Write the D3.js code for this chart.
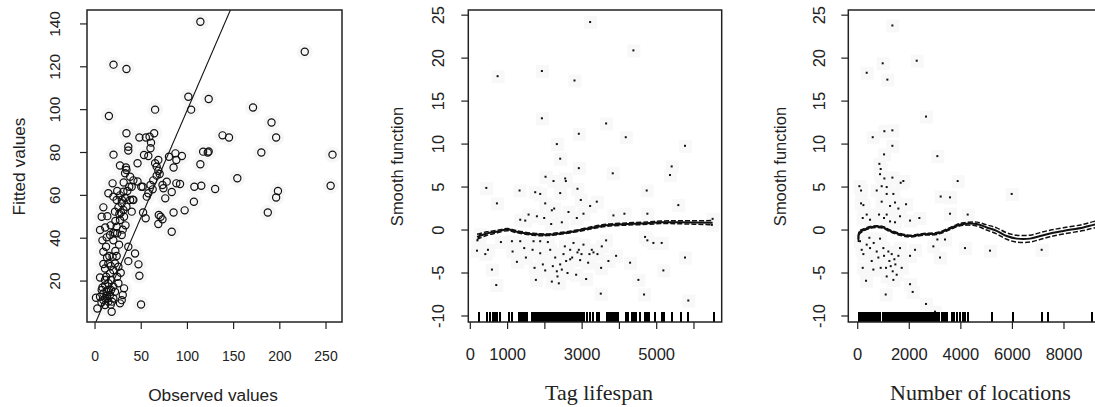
<!DOCTYPE html>
<html>
<head>
<meta charset="utf-8">
<script src="https://cdn.jsdelivr.net/npm/d3@7"></script>
<style>
  html, body { margin: 0; padding: 0; background: #fff; }
  svg { display: block; }
  text { fill: #222; }
</style>
</head>
<body>
<svg id="chart" width="1095" height="407"></svg>
<script>
// ---- Panel 1: observed vs fitted ----
const observed = [114,227,20,34,15,101,123,104,65,171,191,196,138,145,180,257,255,198,196,187,154,130,122,123,117,114,115,107.5,107,97,85,83,87,94,88,80,85,88,92,83,74,76,68.5,66.7,68.5,70,65,64,59,48,55,60.6,60,53,57.7,46,34,36,36,20,27,33.5,34,32.5,38,41.5,46,51.6,57.7,56,62.4,60,63,66.7,73,77.6,69,71,73,68.5,54.8,52,50,
  14.4,19.8,23.4,27,30.7,28.9,25.3,21.6,26.3,30.7,34,38,40.8,32.5,27,23.4,19.8,24,28.9,16.2,12.6,5.4,7.2,9,13.3,11.9,15.5,14.4,19,23.4,21.6,25.3,19.8,16.2,27.8,24,5.4,10.8,14.4,19.8,25.3,31.4,1,5.4,9,12.6,16.2,19.8,9,14.4,10.8,2.5,18,30,28.9,27,7.2,17.3,21.6,13.3,18.4,43.3,47,48,49.8,36,36,41.5,39.7,31.4,19.8,9,10.8,17.3,21.6,39.7,19,
  8,11,13,15,7,11,17,12,9,13,17,22,26,30,33,29,24,35,31,37,28,17,11,22,8];
const fitted = [141,127,121,119,97,106,105,100,100,101,94,87,88,87,80,79,64.5,62,59,52,68,63,80,80.5,80.4,74.5,64.5,64,57,53,52,43,79.6,78.4,76.5,78,73,65.6,65.3,61.6,63.3,58.6,76.5,73.4,71.5,70,75,89,87.4,87,87,84.6,82,78.8,78.4,75,89,82.7,80.9,79,73.9,73,71.8,70.3,68.7,67,66.5,64,61,59.4,62.8,64.8,67,69.2,64.8,66.4,50.8,50,48.8,46.6,49.3,52,64,
  61,59.4,57.8,60,61.7,56.3,54.4,52.4,51.3,53.2,54.7,57.8,58,58.8,48.5,45.4,42.6,42.3,41.5,41.5,40.4,43.8,50,54.4,50.3,36,31.7,28.2,31.4,31.7,28.2,26.7,25.1,23.6,23.9,22,21.7,20.5,19,17.4,19,16.6,12.2,12.7,14.2,15,13.5,11.9,11.1,10.4,8.8,7.2,5.7,13.5,11.1,9.6,15.8,15.8,15,11.9,10.4,32.9,27.8,22.5,9.1,36,29.3,57.8,52.4,50,39,33.7,25.9,20.5,42.3,64,65.6,
  17,18,13,16,10,12,9,22,28,31,27,34,37,44,46,58,62,62,66,64,52,46,45,48,39];
const obsTicks = [0, 50, 100, 150, 200, 250];
const fitTicks = [20, 40, 60, 80, 100, 120, 140];

// ---- Panel 2: smooth of tag lifespan ----
const lifespanX = [3214,4375,732,1920,2795,1920,3643,2911,4170,5759,2321,2411,2911,3821,5402,5357,5580,4732,429,714,1321,1741,1875,2018,2232,2545,2563,2875,2411,2964,3393,2009,2250,2187,2634,3036,3214,1563,1786,1982,1473,1339,3839,4134,4750,2857,2455,2170,
  179,402,473,580,696,821,1134,1250,1339,1446,1491,1670,1723,1759,1875,1946,2009,2080,2143,2187,2277,2339,2375,2411,2455,2500,2536,2571,2607,2679,2732,2768,2839,2875,2911,2946,2982,3036,3107,3161,3196,3259,3411,3500,3509,3643,3705,3911,4286,4509,4661,4688,4750,4911,5134,5179,5759,5848,1116,2214,2321,2679,3304,3527,1875,1696,
  6500,6480,190,230,260];
const lifespanResid = [24.2,20.9,17.9,18.5,17.4,13.0,12.4,11.2,10.8,9.8,10.0,8.3,7.2,6.6,7.4,6.4,2.9,4.6,4.9,3.1,4.6,4.4,4.2,6.2,5.7,6.0,5.7,4.8,4.3,3.5,3.3,3.1,2.5,2.3,2.1,1.9,2.8,1.8,1.6,1.4,1.1,1.2,1.7,1.9,1.9,1.4,0.9,0.7,
  -2.4,-2.8,-2.3,-4.6,-6.4,-1.4,-2.5,-3.7,-1.3,-2.1,-3.2,-2.3,-4.4,-5.8,-2.7,-4.0,-4.7,-1.4,-2.3,-6.0,-3.2,-5.4,-6.2,-4.0,-4.6,-2.8,-1.9,-3.6,-5.0,-3.4,-3.2,-1.5,-5.2,-2.6,-2.3,-3.5,-2.8,-1.7,-5.7,-3.8,-2.8,-2.3,-2.8,-7.4,-4.4,-1.2,-3.6,-3.0,-3.8,-5.8,-7.5,-0.8,-1.2,-1.5,-1.5,-4.7,-3.2,-8.2,-1.3,-4.2,-4.8,-2.3,-2.6,-1.9,-1.3,-1.3,
  1.3,0.6,-1.2,-0.9,-0.5];
const lifespanGrid = [180, 450, 700, 1000, 1250, 1700, 2050, 2400, 2850, 3300, 3650, 4200, 4750, 5100, 5600, 6500];
const lifespanFit = [-0.8, -0.4, -0.2, 0.05, -0.2, -0.5, -0.55, -0.4, -0.1, 0.3, 0.55, 0.7, 0.8, 0.9, 0.9, 0.85];
const lifespanBand = [0.3, 0.2, 0.15, 0.12, 0.12, 0.12, 0.1, 0.1, 0.1, 0.12, 0.12, 0.13, 0.14, 0.15, 0.17, 0.25];
const lifespanRug = [223,446,518,607,670,714,786,1027,1116,1300,1330,1360,1390,1420,1450,1480,1510,1652,1696,
  1768,1800,1830,1860,1890,1920,1950,1980,2010,2040,2070,2100,2130,2160,2190,2220,2250,2280,2310,2340,2370,2400,2430,2460,2490,2520,2550,2580,2610,2640,2670,2700,2730,2760,2790,2820,2850,2880,2910,2940,2970,3000,
  3054,3125,3214,3304,3393,3464,3661,3690,3720,3750,3780,3810,3840,3870,3900,3930,3960,
  4179,4241,4330,4393,4446,4554,4688,4750,4804,4955,5134,5196,5402,5643,5848,6536];
const lifespanTicks = [0, 1000, 2000, 3000, 4000, 5000, 6000];
const lifespanLabels = ["0", "1000", "", "3000", "", "5000", ""];

// ---- Panel 3: smooth of number of locations ----
const locationsX = [1344,349,969,1150,2288,2649,1034,1344,1344,582,1021,3089,840,891,866,1034,1124,930,1344,1667,1770,65,129,3877,5971,3218,3580,129,220,737,930,1124,1383,1447,1254,1577,1874,2391,349,478,827,1124,1021,1254,1447,1641,3580,4265,2029,194,
  90,155,220,349,478,194,323,543,607,737,801,891,995,1021,1098,1124,1189,1228,1280,1318,1357,1383,1422,1460,1512,1577,1641,1086,1706,2029,2029,2132,2223,2649,2998,2934,3192,3089,3386,4162,5131,7134,452,866,620];
const locationsResid = [23.8,18.3,19.4,17.5,19.7,13.2,11.5,11.6,9.8,10.8,8.8,8.6,7.7,7.1,6.5,6.0,5.0,5.1,6.1,5.5,5.7,5.1,4.6,5.7,4.2,3.9,3.8,3.1,2.9,4.6,3.3,4.2,4.2,3.2,2.8,2.5,3.0,1.4,1.8,1.2,1.8,1.8,1.4,1.0,0.9,1.6,1.9,1.8,1.1,1.4,
  -1.3,-2.3,-2.8,-1.7,-2.1,-4.4,-5.9,-3.6,-4.6,-2.5,-3.2,-4.4,-2.1,-3.0,-4.4,-5.4,-2.5,-3.6,-4.2,-2.8,-4.8,-5.8,-3.4,-4.0,-5.2,-3.0,-2.1,-7.5,-4.4,-3.0,-6.3,-7.2,-2.3,-8.6,-9.5,-1.9,-3.2,-1.1,-1.1,-2.1,-2.4,-2.3,-0.9,-1.0,-1.5];
const locationsGrid = [26, 65, 220, 478, 737, 995, 1254, 1641, 2029, 2546, 3063, 3451, 3838, 4097, 4614, 5002, 5389, 5777, 6165, 6682, 7069, 7457, 7974, 8750, 9137, 9500];
const locationsFit = [-1.1, -0.3, 0.0, 0.3, 0.4, 0.3, -0.1, -0.5, -0.7, -0.5, -0.4, 0.0, 0.5, 0.7, 0.7, 0.3, -0.1, -0.7, -1.0, -1.0, -0.7, -0.4, -0.1, 0.3, 0.6, 0.8];
const locationsBand = [0.3, 0.18, 0.12, 0.1, 0.1, 0.1, 0.1, 0.1, 0.1, 0.1, 0.11, 0.12, 0.13, 0.15, 0.22, 0.3, 0.35, 0.38, 0.4, 0.4, 0.4, 0.38, 0.36, 0.36, 0.38, 0.42];
const locationsRug = [40,70,100,130,160,190,220,250,280,310,340,370,400,430,460,490,520,550,580,610,640,670,700,730,760,790,820,850,
  1000,1040,1080,1120,1160,1200,1240,1280,1320,1360,1400,1440,1480,1520,1560,1600,1640,1680,1720,1760,1800,1840,1880,1920,1960,2000,2040,2080,2120,2160,2200,2240,2280,2320,2360,2400,
  2481,2546,2610,2675,2740,2804,2869,2934,2998,3063,3166,3257,3321,3386,3451,3645,3735,3838,3967,4097,4160,4276,5196,6021,7134,7378,9100];
const locationsTicks = [0, 2000, 4000, 6000, 8000, 10000];
const smoothTicks = [-10, -5, 0, 5, 10, 15, 20, 25];

// ---------------------------------------------------------------
const svg = d3.select("#chart");
const TICK = 7;
const sans = "'Liberation Sans', Arial, sans-serif";
const serif = "'Liberation Serif', 'Times New Roman', serif";

function panel(id, box, xDomain, yDomain) {
  const x = d3.scaleLinear().domain(xDomain).range([box.left, box.right]);
  const y = d3.scaleLinear().domain(yDomain).range([box.bottom, box.top]);
  svg.append("clipPath").attr("id", id)
    .append("rect")
    .attr("x", box.left).attr("y", box.top)
    .attr("width", box.right - box.left).attr("height", box.bottom - box.top);
  const g = svg.append("g");
  const plot = g.append("g").attr("clip-path", `url(#${id})`);
  return { x, y, g, plot, box };
}

function drawFrame(p, opts) {
  const { x, y, g, box } = p;
  // x axis ticks and labels
  opts.xTicks.forEach((t, i) => {
    const px = x(t);
    if (px > 1100) return;
    g.append("line").attr("x1", px).attr("x2", px)
      .attr("y1", box.bottom).attr("y2", box.bottom + TICK)
      .attr("stroke", "#222").attr("stroke-width", 1.2);
    const lab = opts.xLabels ? opts.xLabels[i] : String(t);
    if (lab) {
      g.append("text").attr("x", px).attr("y", opts.xLabelY)
        .attr("dy", "0.36em").attr("text-anchor", "middle")
        .style("font-family", sans).style("font-size", opts.xTickSize + "px")
        .text(lab);
    }
  });
  // y axis ticks and labels (rotated, as in base graphics)
  opts.yTicks.forEach(t => {
    const py = y(t);
    g.append("line").attr("x1", box.left - TICK).attr("x2", box.left)
      .attr("y1", py).attr("y2", py)
      .attr("stroke", "#222").attr("stroke-width", 1.2);
    g.append("text")
      .attr("transform", `translate(${opts.yLabelX},${py}) rotate(-90)`)
      .attr("dy", "0.36em").attr("text-anchor", "middle")
      .style("font-family", sans).style("font-size", opts.yTickSize + "px")
      .text(String(t));
  });
  // frame
  g.append("rect")
    .attr("x", box.left).attr("y", box.top)
    .attr("width", box.right - box.left).attr("height", box.bottom - box.top)
    .attr("fill", "none").attr("stroke", "#222").attr("stroke-width", 1.5);
  // titles
  g.append("text").attr("x", opts.xTitleX).attr("y", opts.xTitleY)
    .attr("text-anchor", "middle")
    .style("font-family", opts.xTitleFont).style("font-size", opts.xTitleSize + "px")
    .text(opts.xTitle);
  g.append("text")
    .attr("transform", `translate(${opts.yTitleX},${opts.yTitleY}) rotate(-90)`)
    .attr("dy", "0.36em").attr("text-anchor", "middle")
    .style("font-family", sans).style("font-size", opts.yTitleSize + "px")
    .text(opts.yTitle);
}

// ---------------- Panel 1 ----------------
{
  const p = panel("clipA", { left: 87, right: 342, top: 10, bottom: 322 }, [-8.7, 267.3], [0.9, 146.5]);
  const pts = observed.map((o, i) => ({ o, f: fitted[i] }));
  p.plot.append("g").selectAll("circle").data(pts).join("circle")
    .attr("cx", d => p.x(d.o)).attr("cy", d => p.y(d.f)).attr("r", 8)
    .attr("fill", "#f6f6f6");
  p.plot.append("g").selectAll("circle").data(pts).join("circle")
    .attr("cx", d => p.x(d.o)).attr("cy", d => p.y(d.f)).attr("r", 3.6)
    .attr("fill", "none").attr("stroke", "#111").attr("stroke-width", 1.2);
  // identity line
  const dom = p.x.domain();
  p.plot.append("line")
    .attr("x1", p.x(dom[0])).attr("y1", p.y(dom[0]))
    .attr("x2", p.x(dom[1])).attr("y2", p.y(dom[1]))
    .attr("stroke", "#111").attr("stroke-width", 1.1);
  drawFrame(p, {
    xTicks: obsTicks, yTicks: fitTicks,
    xLabelY: 355.5, yLabelX: 54, xTickSize: 14, yTickSize: 15.5,
    xTitle: "Observed values", xTitleX: 213, xTitleY: 401, xTitleSize: 17.3, xTitleFont: sans,
    yTitle: "Fitted values", yTitleX: 18.5, yTitleY: 166.5, yTitleSize: 17.3
  });
}

// ---------------- Smooth panels ----------------
function smoothPanel(id, box, xDomain, xs, resid, grid, fit, band, rug, xTicks, xLabels, o) {
  const p = panel(id, box, xDomain, [-10.7, 25.6]);
  const pts = xs.map((v, i) => ({ x: v, r: resid[i] }));
  // faint haze around each residual point
  p.plot.append("g").selectAll("rect").data(pts).join("rect")
    .attr("x", d => p.x(d.x) - 6).attr("y", d => p.y(d.r) - 6)
    .attr("width", 13).attr("height", 13)
    .attr("fill", "#f8f8f8");
  p.plot.append("g").selectAll("rect").data(pts).join("rect")
    .attr("x", d => p.x(d.x) - 1).attr("y", d => p.y(d.r) - 1)
    .attr("width", 2).attr("height", 2)
    .attr("fill", "#111");
  const curve = grid.map((g, i) => ({ x: g, f: fit[i], b: band[i] }));
  const line = acc => d3.line().x(d => p.x(d.x)).y(d => p.y(acc(d))).curve(d3.curveCatmullRom);
  p.plot.append("path").datum(curve).attr("d", line(d => d.f))
    .attr("fill", "none").attr("stroke", "#111").attr("stroke-width", 2);
  [1, -1].forEach(sgn => {
    p.plot.append("path").datum(curve).attr("d", line(d => d.f + sgn * d.b))
      .attr("fill", "none").attr("stroke", "#111").attr("stroke-width", 1.5)
      .attr("stroke-dasharray", "5,2");
  });
  // rug of the covariate
  p.plot.append("g").selectAll("rect").data(rug).join("rect")
    .attr("x", d => Math.round(p.x(d)) - 1).attr("y", box.bottom - 10)
    .attr("width", 2).attr("height", 10)
    .attr("fill", "#000")
    .attr("shape-rendering", "crispEdges");
  drawFrame(p, Object.assign({
    xTicks, xLabels, yTicks: smoothTicks, xLabelY: 354, xTickSize: 16.5, yTickSize: 16.5,
    yTitle: "Smooth function", yTitleY: 166.5, yTitleSize: 16.5, xTitleY: 400, xTitleSize: 22, xTitleFont: serif
  }, o));
}

smoothPanel("clipB", { left: 468.3, right: 721.7, top: 10, bottom: 322 }, [-54, 6744],
  lifespanX, lifespanResid, lifespanGrid, lifespanFit, lifespanBand, lifespanRug,
  lifespanTicks, lifespanLabels,
  { yLabelX: 438.3, yTitleX: 397.5, xTitle: "Tag lifespan", xTitleX: 599 });

smoothPanel("clipC", { left: 848.3, right: 1110.4, top: 10, bottom: 322 }, [-365, 9800],
  locationsX, locationsResid, locationsGrid, locationsFit, locationsBand, locationsRug,
  locationsTicks, null,
  { yLabelX: 819, yTitleX: 779.7, xTitle: "Number of locations", xTitleX: 980.5 });
</script>
</body>
</html>
